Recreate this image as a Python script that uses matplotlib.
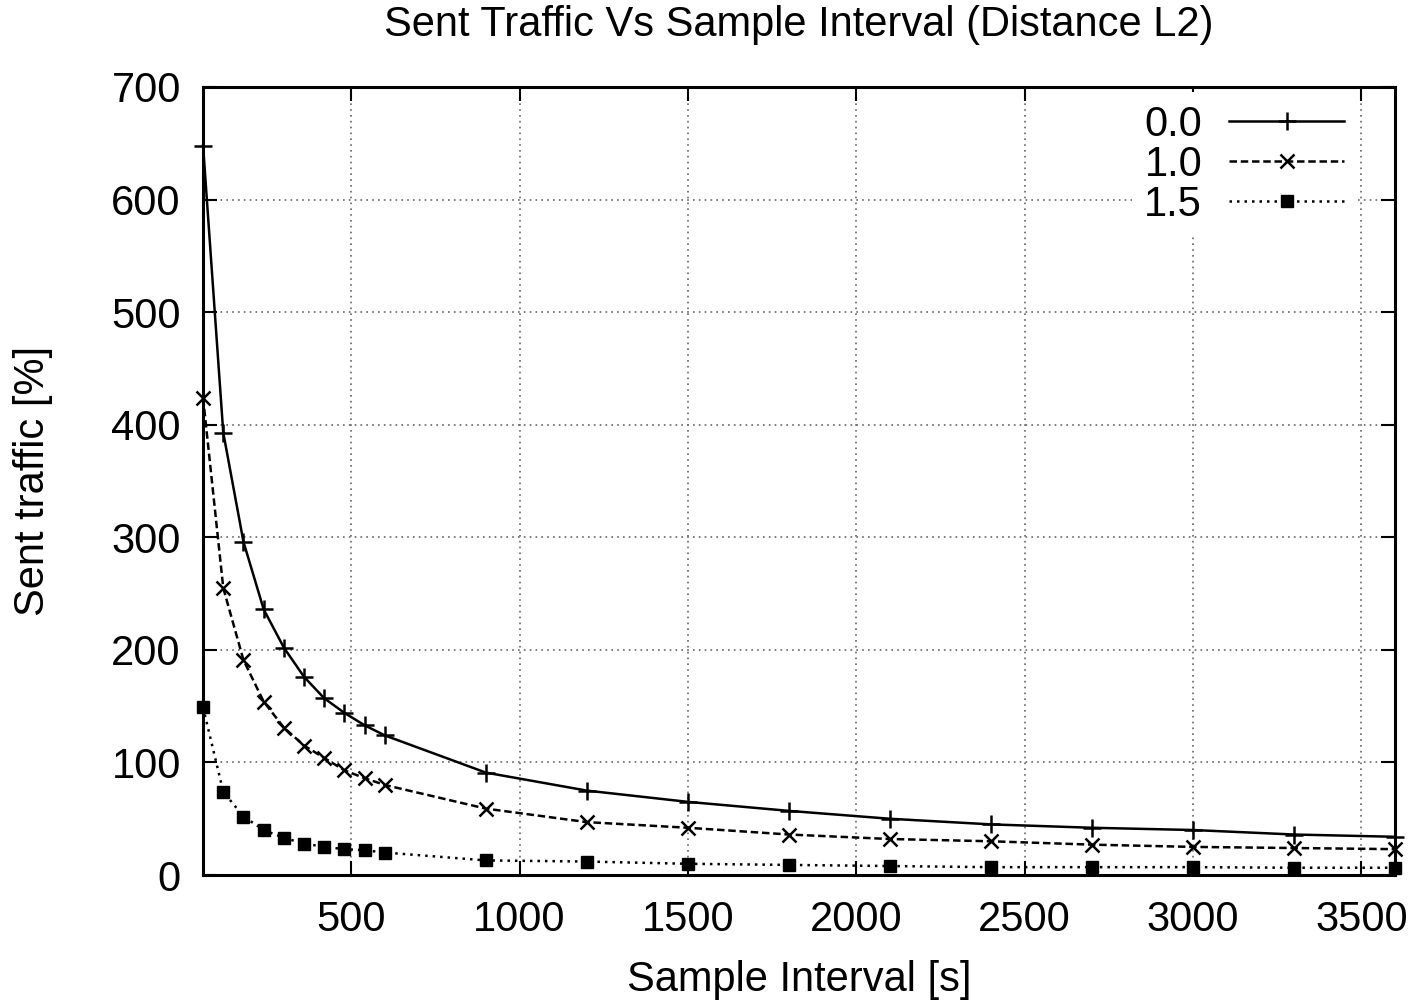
import matplotlib
matplotlib.use("Agg")
import matplotlib.pyplot as plt

plt.rcParams['font.family'] = ['Liberation Sans', 'DejaVu Sans']

# sample intervals [s]
interval = [60, 120, 180, 240, 300, 360, 420, 480, 540, 600,
            900, 1200, 1500, 1800, 2100, 2400, 2700, 3000, 3300, 3600]

# sent traffic [%] for each threshold
traffic_00 = [648, 393, 296, 236, 202, 176, 157, 144, 133, 124,
              91, 75, 65, 57, 50, 45, 42, 40, 36, 34]
traffic_10 = [424, 255, 191, 154, 131, 115, 104, 93, 86, 80,
              59, 47, 42, 36, 32, 30, 27, 25, 24, 23]
traffic_15 = [149, 74, 52, 40, 33, 28, 25, 23, 22, 20,
              13, 12, 10, 9, 8, 7, 7, 7, 6.5, 6.5]

labels = ['0.0', '1.0', '1.5']

FS = 30

fig = plt.figure(figsize=(14.18, 10.02), dpi=100)
ax = fig.add_axes([0.1432, 0.1267, 0.8406, 0.7865])

ax.plot(interval, traffic_00, color='black', lw=1.8, linestyle='-',
        marker='+', markersize=13, markeredgewidth=1.8, label=labels[0],
        clip_on=False, zorder=3)
ax.plot(interval, traffic_10, color='black', lw=1.8, linestyle=(0, (3, 1.5)),
        marker='x', markersize=10, markeredgewidth=1.8, label=labels[1],
        clip_on=False, zorder=3)
ax.plot(interval, traffic_15, color='black', lw=1.8, linestyle=(0, (1, 2)),
        marker='s', markersize=8, markeredgewidth=1, label=labels[2],
        clip_on=False, zorder=3)

ax.set_xlim(60, 3600)
ax.set_ylim(0, 700)
ax.set_xticks(range(500, 3501, 500))
ax.set_yticks(range(0, 701, 100))

ax.grid(True, color='#666666', linestyle=(0, (1, 2.5)), linewidth=1.2)
ax.tick_params(direction='in', length=10, width=1.5, top=True, right=True,
               labelsize=FS)
ax.tick_params(axis='x', pad=18)
ax.tick_params(axis='y', pad=16)
for s in ax.spines.values():
    s.set_linewidth(2.2)

fig.text(0.563, 0.975, 'Sent Traffic Vs Sample Interval (Distance L2)',
         fontsize=FS, ha='center', va='center')
ax.set_xlabel('Sample Interval [s]', fontsize=FS, va='center')
ax.xaxis.set_label_coords(0.5, -0.133)
ax.set_ylabel('Sent traffic [%]', fontsize=FS, va='center')
ax.yaxis.set_label_coords(-0.143, 0.5)

leg = ax.legend(loc='upper right', bbox_to_anchor=(0.985, 1.02), frameon=True,
                markerfirst=False, numpoints=1, fontsize=FS, handlelength=2.75,
                handletextpad=0.65, labelspacing=0.0, borderpad=0.3,
                fancybox=False)
leg.get_frame().set_facecolor('white')
leg.get_frame().set_edgecolor('none')
leg.get_frame().set_alpha(1)
leg.set_zorder(5)

fig.savefig('out.png', dpi=100)
